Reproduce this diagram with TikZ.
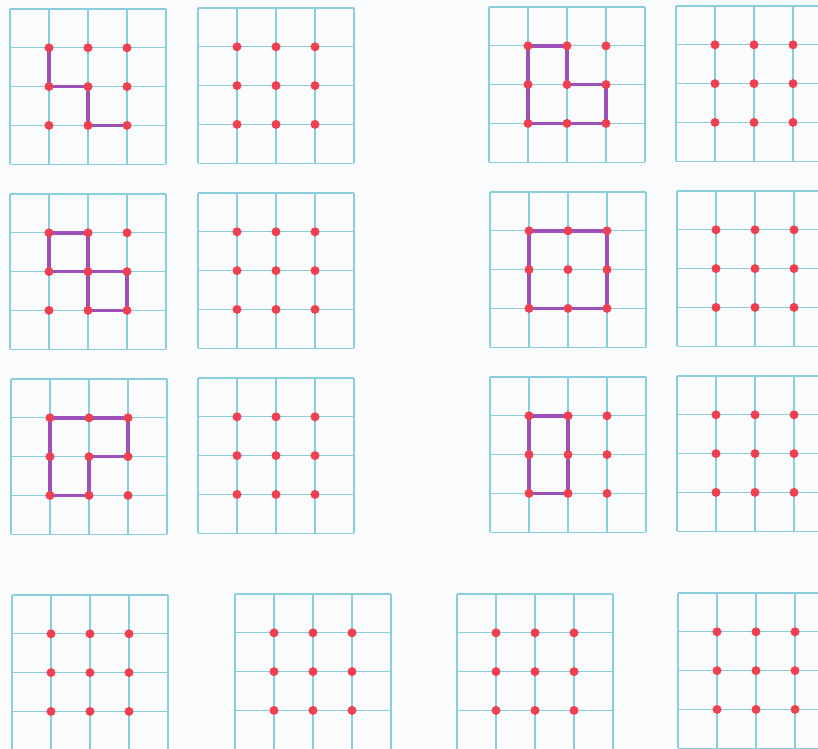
\documentclass[tikz,border=0pt]{standalone}
\definecolor{gridc}{HTML}{8ACEDC}
\definecolor{dotc}{HTML}{EE4050}
\definecolor{figc}{HTML}{9D50B8}
\definecolor{bgc}{HTML}{F9FBFD}
\begin{document}
\begin{tikzpicture}[x=1pt,y=-1pt,
  gridline/.style={gridc, line width=1.3pt},
  dotn/.style={circle, fill=dotc, inner sep=0pt, minimum size=9pt},
  figline/.style={figc, line width=3.6pt, line join=round, line cap=round}]
\fill[bgc] (0,0) rectangle (818,748);
\useasboundingbox (0,0) rectangle (818,748);
\clip (0,0) rectangle (818,748);
\def\gridlist{a/10/9, b/198/8, c/489/7, d/676/6,
  e/10/194, f/198/193, g/490/192, h/677/191,
  i/11/379, j/198/378, k/490/377, l/677/376,
  m/12/595, n/235/594, o/457/594, p/678/593}
\foreach \n/\x/\y in \gridlist {
  \begin{scope}[shift={(\x,\y)}]
    \foreach \t in {0,...,4} {
      \draw[gridline] (\t*39,0) -- (\t*39,4*38.8);
      \draw[gridline] (0,\t*38.8) -- (4*39,\t*38.8);
    }
    \foreach \i in {1,2,3} {
      \foreach \j in {1,2,3} {
        \coordinate (\n-\i-\j) at (\i*39,\j*38.8);
      }
    }
  \end{scope}
}
% figures
\draw[figline] (a-1-1) -- (a-1-2) -- (a-2-2) -- (a-2-3) -- (a-3-3);
\draw[figline] (c-1-1) -- (c-2-1) -- (c-2-2) -- (c-3-2) -- (c-3-3) -- (c-1-3) -- cycle;
\draw[figline] (e-1-1) -- (e-2-1) -- (e-2-3) -- (e-3-3) -- (e-3-2) -- (e-1-2) -- cycle;
\draw[figline] (g-1-1) -- (g-3-1) -- (g-3-3) -- (g-1-3) -- cycle;
\draw[figline] (i-1-1) -- (i-3-1) -- (i-3-2) -- (i-2-2) -- (i-2-3) -- (i-1-3) -- cycle;
\draw[figline] (k-1-1) -- (k-2-1) -- (k-2-3) -- (k-1-3) -- cycle;
% dots
\foreach \n/\x/\y in \gridlist {
  \foreach \i in {1,2,3} {
    \foreach \j in {1,2,3} {
      \node[dotn] (\n-d-\i-\j) at (\n-\i-\j) {};
    }
  }
}
\end{tikzpicture}
\end{document}
